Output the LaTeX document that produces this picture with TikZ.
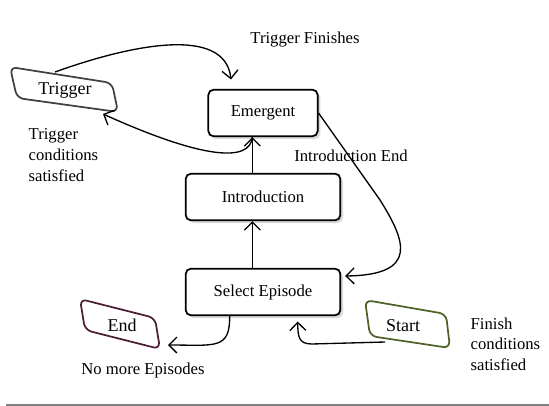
\documentclass[tikz,border=0pt]{standalone}
\usepackage{fontspec}
\setmainfont{Liberation Serif}
\usetikzlibrary{arrows.meta, shadows}
\definecolor{endred}{HTML}{4A1F35}
\definecolor{startgreen}{HTML}{4F6228}
\tikzstyle{box}       = [rectangle, rounded corners=4pt, draw=black, line width=1.3pt,
                         fill=white, minimum height=35pt, text centered,
                         font=\fontsize{12.5}{15}\selectfont,
                         drop shadow={shadow xshift=2pt, shadow yshift=-2pt, fill=black!30}]
\tikzstyle{slantbox}  = [rounded corners=5pt, line width=1.3pt]
\tikzstyle{lbl}       = [font=\fontsize{12.5}{15.5}\selectfont, align=left]
\tikzstyle{term}      = [font=\fontsize{13.5}{16}\selectfont]
\tikzstyle{arrow}     = [line width=1pt, -{Straight Barb[length=6pt,width=12pt]}]

\begin{document}
\begin{tikzpicture}[x=0.75pt, y=-0.75pt]
  \useasboundingbox (0,0) rectangle (549,406);

  % main states
  \node[box, minimum width=82pt]  (emergent) at (263,113) {Emergent};
  \node[box, minimum width=116pt] (intro)    at (263,197) {Introduction};
  \node[box, minimum width=116pt] (select)   at (263,292) {Select Episode};

  % slanted terminals
  \draw[slantbox, draw=black!75] (10,67) -- (112,83) -- (118,112) -- (17,98) -- cycle;
  \node[term] (trigger) at (65,90) {Trigger};
  \draw[slantbox, draw=endred] (80,299) -- (155,318) -- (160,349) -- (85,330) -- cycle;
  \node[term] (end) at (122,325) {End};
  \draw[slantbox, draw=startgreen] (365,300) -- (446,314) -- (450,348) -- (370,336) -- cycle;
  \node[term] (start) at (403,326) {Start};

  \coordinate (trigtop) at (55,72);
  \coordinate (trigin)  at (103,114);
  \coordinate (endin)   at (168,345);
  \coordinate (startout) at (385,342);

  % labels
  \node[lbl] (trigfin)  at (305,40)  {Trigger Finishes};
  \node[lbl, anchor=west] (trigcond) at (24,155) {Trigger\\conditions\\satisfied};
  \node[lbl] (introend) at (351,156) {Introduction End};
  \node[lbl] (nomore)   at (143,370) {No more Episodes};
  \node[lbl, anchor=west] (fincond) at (466,344) {Finish\\conditions\\satisfied};

  % transitions
  \draw[arrow] (trigtop) .. controls (130,45) and (225,25) .. ([shift={(-24pt,7pt)}]emergent.north);
  \draw[arrow] ([xshift=-8pt]emergent.south) .. controls (250,162) and (205,160) .. (trigin);
  \draw[arrow] ([xshift=-8pt]intro.north) -- ([xshift=-8pt]emergent.south);
  \draw[arrow] ([xshift=-8pt]select.north) -- ([xshift=-8pt]intro.south);
  \draw[arrow] (emergent.east) -- (380,200) .. controls (405,240) and (420,275) .. ([shift={(3pt,12pt)}]select.east);
  \draw[arrow] ([xshift=-25pt]select.south) .. controls (230,350) and (215,345) .. (endin);
  \draw[arrow] (startout) -- (312,344) .. controls (298,344) and (298,336) .. ([shift={(26pt,-4pt)}]select.south);

  \draw[black!50, line width=1.5pt] (6,404.5) -- (549,404.5);
\end{tikzpicture}
\end{document}
